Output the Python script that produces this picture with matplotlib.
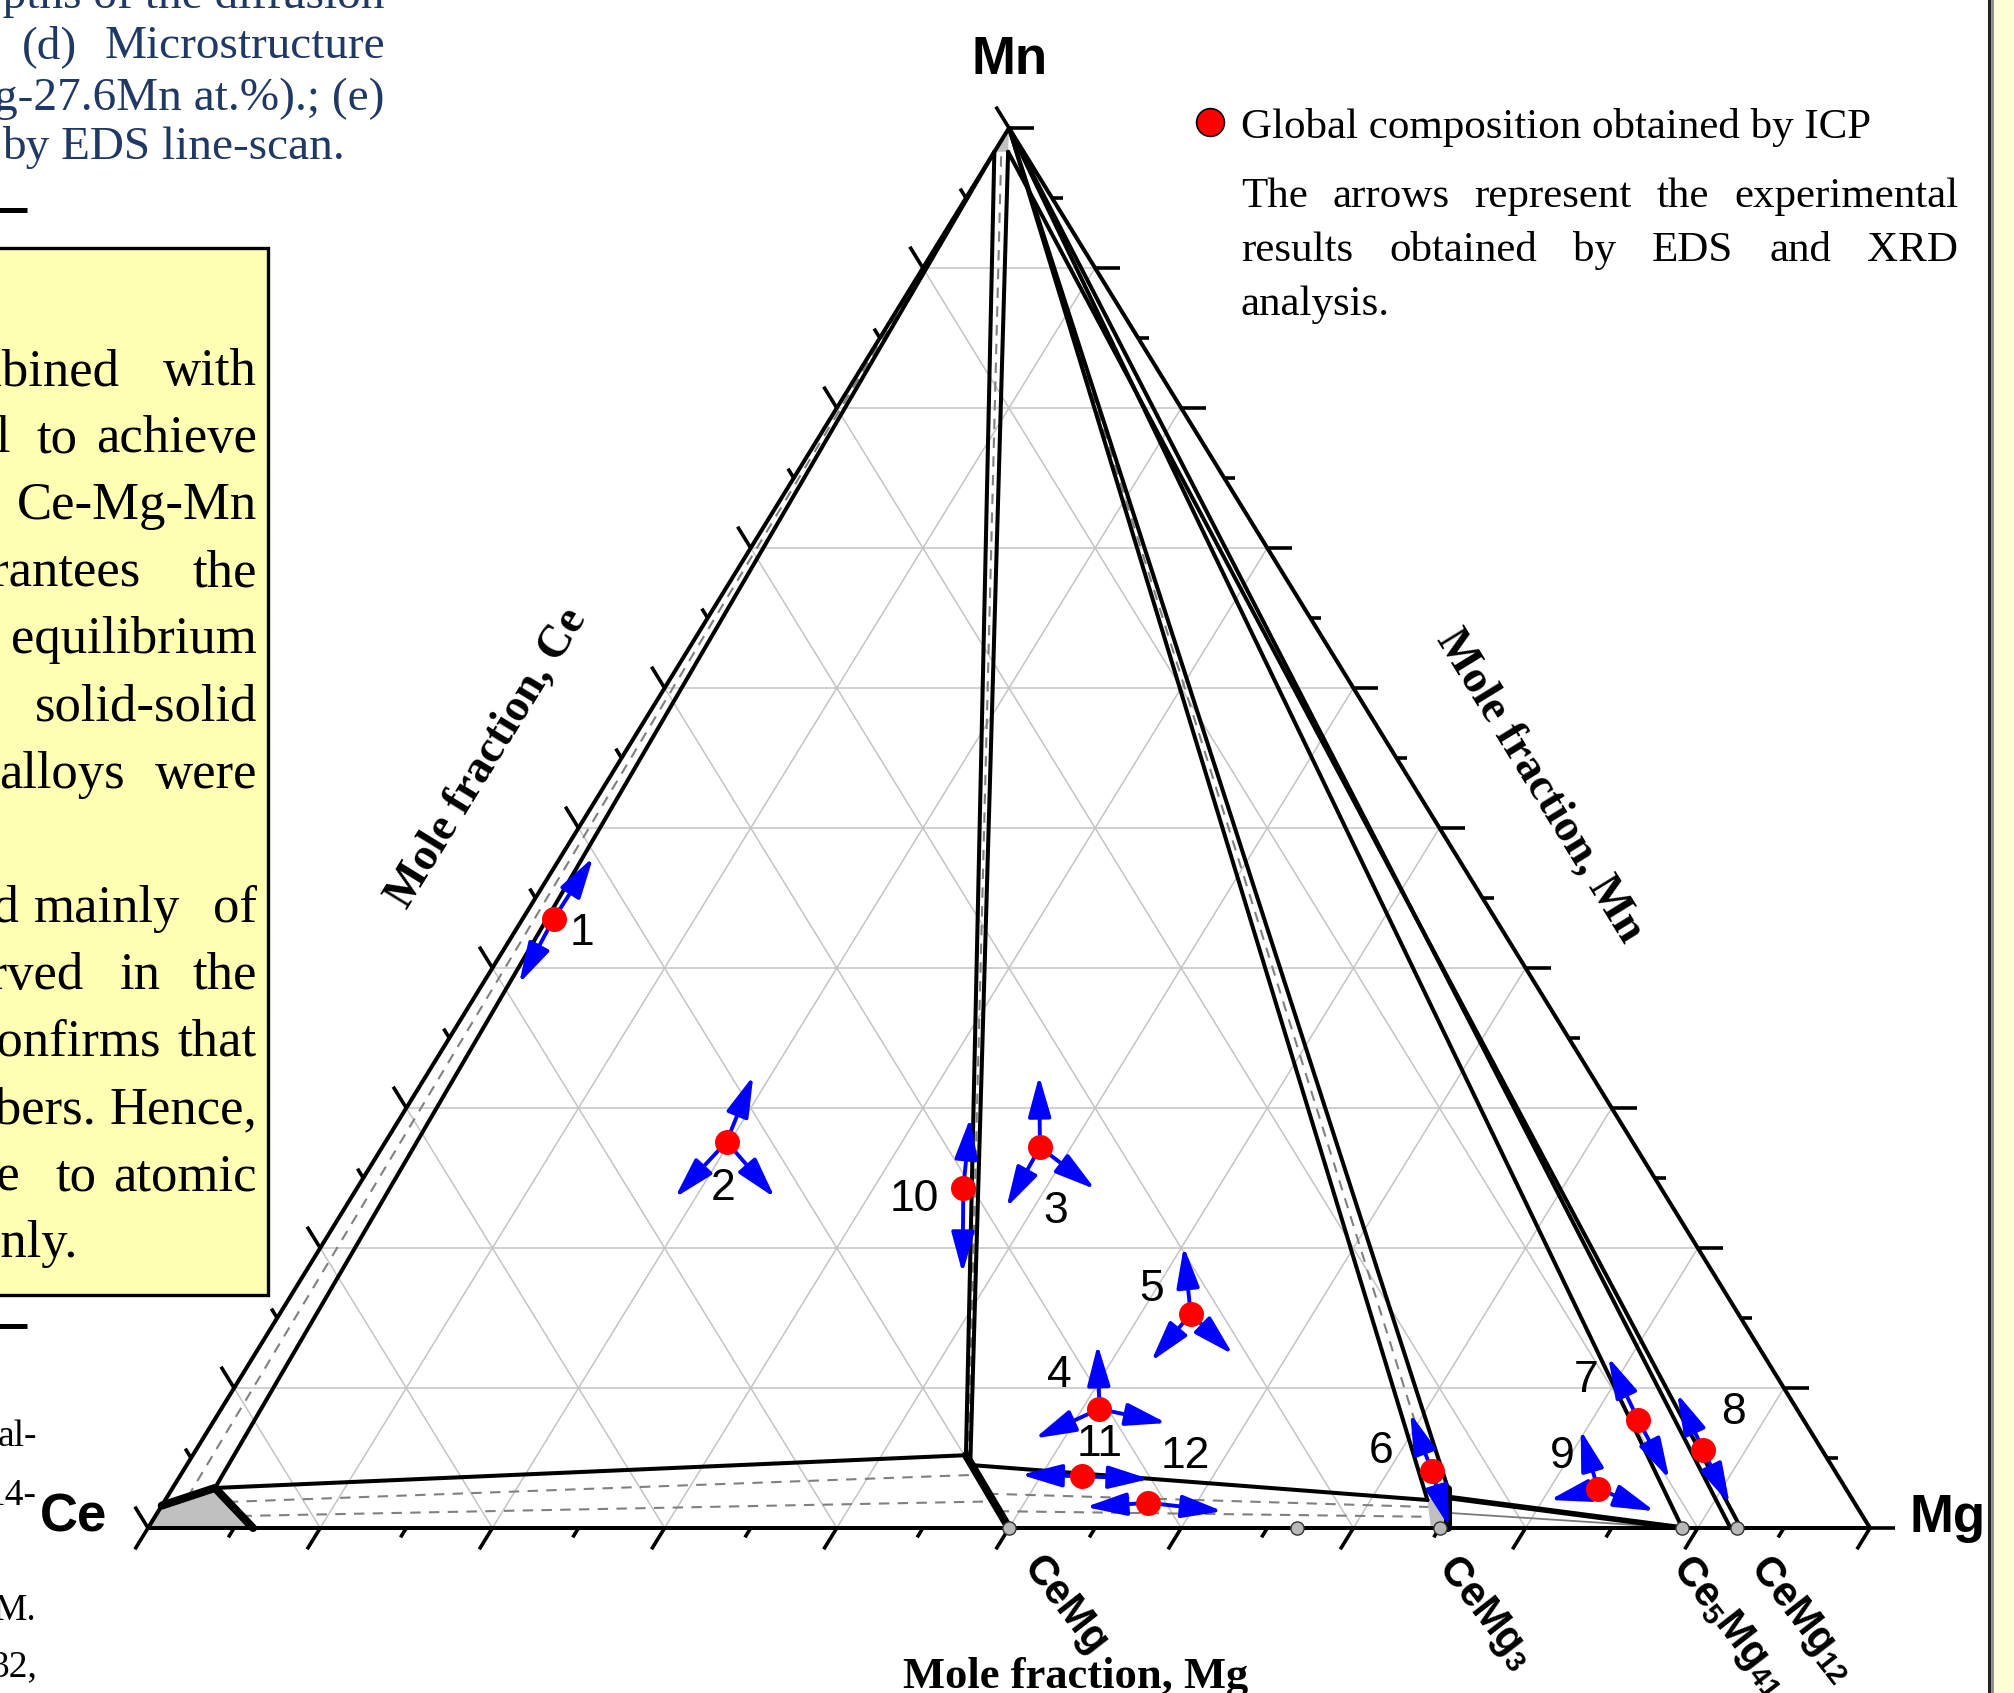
import matplotlib.pyplot as plt
from matplotlib.patches import Polygon, Rectangle, FancyArrowPatch

plt.rcParams['mathtext.fontset'] = 'custom'
plt.rcParams['mathtext.rm'] = 'Liberation Sans:bold'
plt.rcParams['mathtext.it'] = 'Liberation Sans:bold'
plt.rcParams['mathtext.bf'] = 'Liberation Sans:bold'

SANS = 'Liberation Sans'
SERIF = 'Liberation Serif'

# --- alloys: global composition by ICP, mole fractions (Ce = 1 - Mg - Mn)
alloy_no = [1, 2, 3, 4, 5, 6, 7, 8, 9, 10, 11, 12]
alloy_mg = [0.018, 0.198, 0.382, 0.510, 0.529, 0.725, 0.827, 0.875, 0.828, 0.352, 0.524, 0.572]
alloy_mn = [0.435, 0.276, 0.272, 0.085, 0.153, 0.041, 0.077, 0.056, 0.028, 0.243, 0.037, 0.018]

# phases found by EDS / XRD in every alloy (arrow tips), (Mg, Mn)
eds_phases = [
    [(0.019, 0.479), (0.021, 0.389)],
    [(0.190, 0.323), (0.188, 0.236), (0.246, 0.236)],
    [(0.356, 0.323), (0.384, 0.229), (0.429, 0.242)],
    [(0.486, 0.131), (0.483, 0.064), (0.554, 0.075)],
    [(0.501, 0.201), (0.523, 0.119), (0.568, 0.124)],
    [(0.692, 0.082), (0.755, 0.001)],
    [(0.787, 0.122), (0.866, 0.035)],
    [(0.840, 0.096), (0.910, 0.017)],
    [(0.797, 0.070), (0.804, 0.020), (0.869, 0.012)],
    [(0.331, 0.293), (0.382, 0.182)],
    [(0.488, 0.038), (0.564, 0.035)],
    [(0.537, 0.015), (0.618, 0.012)],
]

# binary compounds on the Ce-Mg side
compound_label = ['CeMg', 'CeMg$_3$', 'Ce$_5$Mg$_{41}$', 'CeMg$_{12}$']
compound_mg = [0.500, 0.750, 0.891, 0.923]
binary_mark_mg = [0.500, 0.667, 0.750, 0.891, 0.923]

# phase regions and boundaries, (Mg, Mn)
ce_region = [(0, 0), (0, 0.016), (0.0246, 0.0286), (0.061, 0)]
mn_region = [(0, 1), (0, 0.983), (0.008, 0.983)]
cemg3_region = [(0.733, 0.020), (0.741, 0.028), (0.755, 0), (0.745, 0)]

solid_lines = [
    [(0.0246, 0.0286), (0, 0.983)],
    [(0, 0.983), (0.449, 0.052)],
    [(0.008, 0.983), (0.455, 0.045)],
    [(0.0246, 0.0286), (0.449, 0.052)],
    [(0.455, 0.045), (0.733, 0.020)],
    [(0, 1), (0.733, 0.020)],
    [(0, 1), (0.741, 0.028)],
    [(0, 1), (0.891, 0)],
    [(0, 1), (0.919, 0)],
    [(0.008, 0.983), (0.925, 0)],
]
thick_lines = [
    [(0, 0.016), (0.0246, 0.0286), (0.061, 0)],
    [(0.449, 0.052), (0.500, 0)],
    [(0.741, 0.028), (0.755, 0)],
]
medium_lines = [[(0.743, 0.022), (0.891, 0)]]
thin_lines = [[(0.747, 0.011), (0.891, 0)]]
tie_lines = [
    [(0.012, 0.022), (0, 0.99)],
    [(0.452, 0.0485), (0.004, 0.983)],
    [(0.037, 0.0186), (0.462, 0.038)],
    [(0.050, 0.0086), (0.481, 0.019)],
    [(0.4755, 0.0245), (0.736, 0.015)],
    [(0.488, 0.012), (0.740, 0.008)],
    [(0.737, 0.024), (0, 1)],
]

# label offsets of the alloy numbers (pixels, y downwards)
label_dx = [28, -3, 16, -40, -39, -51, -52, 30, -36, -49, 17, 37]
label_dy = [10, 42, 60, -38, -29, -24, -44, -42, -37, 7, -36, -51]
compound_dx = [12, -3, -12, 11]


def tern(mg, mn):
    return mg + 0.5 * mn, mn


def xy(pts):
    return [tern(*p)[0] for p in pts], [tern(*p)[1] for p in pts]


fig = plt.figure(figsize=(20.14, 16.93), dpi=100)
ax = fig.add_axes([0, 0, 1, 1])
# triangle: Ce at (148,1528) px, Mg at (1870,1528), Mn at (1009,128)
ax.set_xlim(-148 / 1722, 1866 / 1722)
ax.set_ylim(-165 / 1400, 1528 / 1400)
ax.axis('off')


def px(x, y):
    return (x - 148) / 1722, (1528 - y) / 1400


# ---------------- surrounding page -----------------
ax.add_patch(Rectangle(px(-10, 1295), 278 / 1722, 1047 / 1400, fc='#ffffb3',
                       ec='black', lw=2.4, zorder=0, clip_on=False))
ax.add_patch(Rectangle(px(1990, 1700), 40 / 1722, 1720 / 1400, fc='#fdfdd6',
                       ec='none', zorder=0, clip_on=False))
ax.plot(*zip(px(1988.5, -10), px(1988.5, 1700)), color='#222222', lw=2.2, clip_on=False)
ax.plot(*zip(px(1991.5, -10), px(1991.5, 1700)), color='#8a8a8a', lw=2.0, clip_on=False)
for yb in (210, 1326):
    ax.plot(*zip(px(-5, yb), px(27, yb)), color='black', lw=3.6, solid_capstyle='butt', clip_on=False)

blue = '#1f3864'
ax.text(*px(385, 8), 'depths of the diffusion', ha='right', va='baseline', family=SERIF, fontsize=34, color=blue)
ax.text(*px(22, 58), '(d)', ha='left', va='baseline', family=SERIF, fontsize=34, color=blue)
ax.text(*px(385, 58), 'Microstructure', ha='right', va='baseline', family=SERIF, fontsize=34, color=blue)
ax.text(*px(385, 110), 'Mg-27.6Mn at.%).; (e)', ha='right', va='baseline', family=SERIF, fontsize=34, color=blue)
ax.text(*px(2, 159), 'by EDS line-scan.', ha='left', va='baseline', family=SERIF, fontsize=34, color=blue)

box_lines = [
    [('combined', 93), ('with', 200)],
    [('l', 8), ('to', 60), ('achieve', 200)],
    [('Ce-Mg-Mn', 200)],
    [('guarantees', 110), ('the', 200)],
    [('equilibrium', 200)],
    [('solid-solid', 200)],
    [('alloys', 97), ('were', 200)],
    [],
    [('composed', 15), ('mainly', 140), ('of', 200)],
    [('observed', 65), ('in', 125), ('the', 200)],
    [('confirms', 125), ('that', 200)],
    [('numbers.', 75), ('Hence,', 200)],
    [('relative', 15), ('to', 75), ('atomic', 200)],
    [('only.', 60)],
]
for i, words in enumerate(box_lines):
    for w, xr in words:
        ax.text(*px(xr * 1.2845, 385 + 67.1 * i), w, ha='right', va='baseline',
                family=SERIF, fontsize=38, color='black', zorder=1)

for s, yb in [('al-', 1446), ('14-', 1505), ('M.', 1620), ('32,', 1676)]:
    ax.text(*px(37, yb), s, ha='right', va='baseline', family=SERIF, fontsize=27, color='black')

# ---------------- ternary frame -----------------
grid_kw = dict(color='#c4c4c4', lw=1.1, zorder=1)
for k in range(1, 10):
    f = k / 10
    ax.plot(*xy([(0, f), (1 - f, f)]), **grid_kw)
    ax.plot(*xy([(f, 0), (f, 1 - f)]), **grid_kw)
    ax.plot(*xy([(f, 0), (0, f)]), **grid_kw)

tick_kw = dict(color='black', lw=2.6, solid_capstyle='butt', zorder=4, clip_on=False)
for k in range(21):
    f = k / 20
    L = 25 if k % 2 == 0 else 11
    lb = L / 1643.6
    x0, y0 = tern(f, 0)
    ax.plot([x0, x0 - 0.5 * lb], [y0, y0 - lb], **tick_kw)
    x0, y0 = tern(0, 1 - f)
    ax.plot([x0, x0 - 0.5 * lb], [y0, y0 + lb], **tick_kw)
    x0, y0 = tern(1 - f, f)
    ax.plot([x0, x0 + L / 1722], [y0, y0], **tick_kw)

# ---------------- phase diagram -----------------
for reg in (ce_region, mn_region, cemg3_region):
    ax.add_patch(Polygon(list(zip(*xy(reg))), closed=True, fc='#c0c0c0', ec='none', zorder=2))

for seg in tie_lines:
    ax.plot(*xy(seg), color='#808080', lw=1.5, ls=(0, (5, 4)), zorder=3)
for seg in thin_lines:
    ax.plot(*xy(seg), color='#7a7a7a', lw=1.3, zorder=3)

line_kw = dict(color='black', solid_capstyle='round', solid_joinstyle='round', zorder=4)
ax.plot(*xy([(0, 0), (1, 0), (0, 1), (0, 0)]), lw=2.9, clip_on=False, **line_kw)
for seg in solid_lines:
    ax.plot(*xy(seg), lw=2.9, **line_kw)
for seg in medium_lines:
    ax.plot(*xy(seg), lw=4.0, **line_kw)
for seg in thick_lines:
    ax.plot(*xy(seg), lw=5.8, **line_kw)

bx, by = xy([(m, 0) for m in binary_mark_mg])
ax.plot(bx, by, 'o', ms=9.5, mfc='#b8b8b8', mec='#333333', mew=1.0, ls='none', zorder=4.5, clip_on=False)

# ---------------- alloys -----------------
for i, n in enumerate(alloy_no):
    p0 = tern(alloy_mg[i], alloy_mn[i])
    for tip in eds_phases[i]:
        ax.add_patch(FancyArrowPatch(p0, tern(*tip), arrowstyle='-|>,head_length=25,head_width=7',
                                     mutation_scale=1, lw=2.8, color='#0000ff',
                                     shrinkA=0, shrinkB=0, zorder=5))
    ax.annotate(str(n), xy=p0, xytext=(label_dx[i], -label_dy[i]), textcoords='offset pixels',
                ha='center', va='center_baseline', family=SANS, fontsize=32, zorder=7)

ax.plot(*xy(list(zip(alloy_mg, alloy_mn))), 'o', ms=18, mfc='#ff0000', mec='none', ls='none', zorder=6)

# ---------------- labels -----------------
ax.text(*px(1010, 74), 'Mn', ha='center', va='baseline', family=SANS, weight='bold', fontsize=38)
ax.text(*px(74, 1531), 'Ce', ha='center', va='baseline', family=SANS, weight='bold', fontsize=38)
ax.text(*px(1948, 1532), 'Mg', ha='center', va='baseline', family=SANS, weight='bold', fontsize=38)

for lab, mg, dx in zip(compound_label, compound_mg, compound_dx):
    x0, _ = tern(mg, 0)
    ax.annotate(lab, xy=(x0, 0), xytext=(dx, -39), textcoords='offset pixels',
                rotation=-52, rotation_mode='anchor', ha='left', va='baseline',
                family=SANS, weight='bold', fontsize=30)

ang = 58.4
ax.text(*px(488, 758), 'Mole fraction, Ce', rotation=ang, rotation_mode='anchor', ha='center',
        va='center', family=SERIF, weight='bold', fontsize=33)
ax.text(*px(1539, 786), 'Mole fraction, Mn', rotation=-ang, rotation_mode='anchor', ha='center',
        va='center', family=SERIF, weight='bold', fontsize=33)
ax.text(*px(1076, 1688), 'Mole fraction, Mg', ha='center', va='baseline', family=SERIF,
        weight='bold', fontsize=32)

# legend and note
ax.plot(*px(1210, 122), 'o', ms=20, mfc='#ff0000', mec='black', mew=1.2, clip_on=False)
ax.text(*px(1241, 138), 'Global composition obtained by ICP', ha='left', va='baseline',
        family=SERIF, fontsize=31)

renderer = fig.canvas.get_renderer()


def justify(words, x_left, x_right, y_base):
    texts = [ax.text(0, 0, w, ha='left', va='baseline', family=SERIF, fontsize=31) for w in words]
    widths = [t.get_window_extent(renderer).width for t in texts]
    gap = (x_right - x_left - sum(widths)) / max(len(words) - 1, 1)
    x = x_left
    for t, w in zip(texts, widths):
        t.set_position(px(x, y_base))
        x += w + gap


justify('The arrows represent the experimental'.split(), 1241, 1958, 207)
justify('results obtained by EDS and XRD'.split(), 1241, 1958, 261)
ax.text(*px(1241, 315), 'analysis.', ha='left', va='baseline', family=SERIF, fontsize=31)

fig.savefig('out.png', dpi=100)
